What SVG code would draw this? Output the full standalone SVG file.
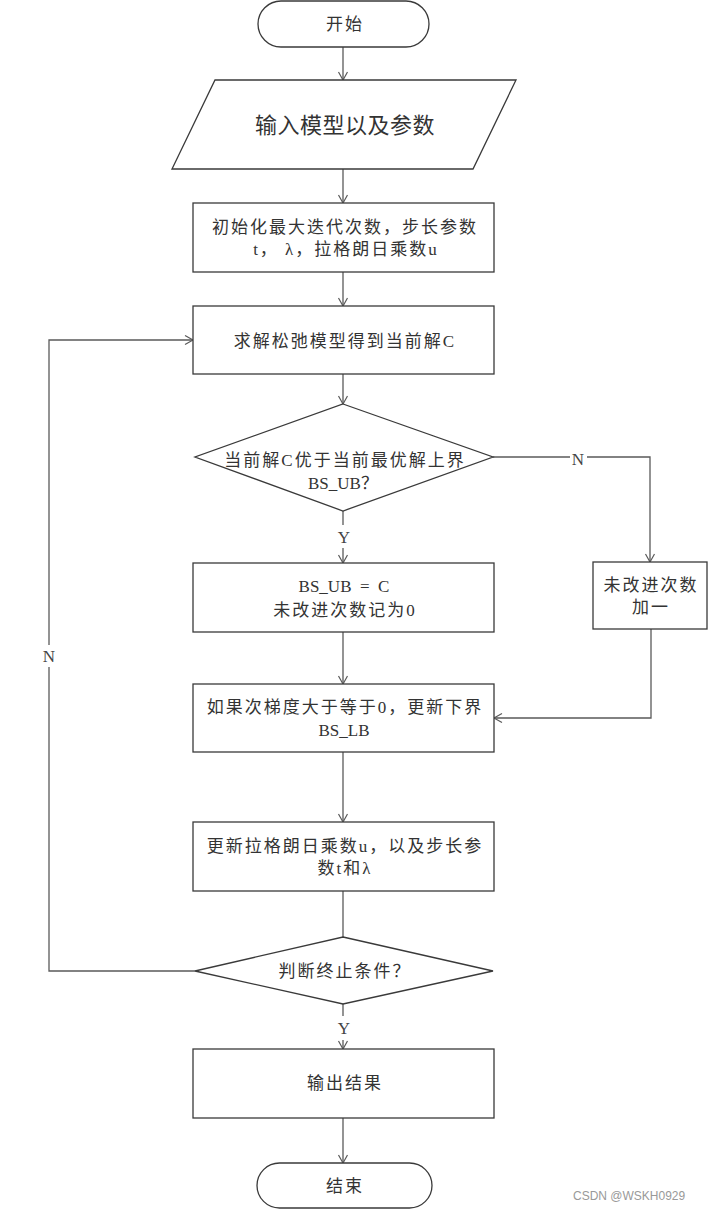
<svg xmlns="http://www.w3.org/2000/svg" width="709" height="1211" viewBox="0 0 709 1211">
<style>
.s{fill:#fff;stroke:#3a3a3a;stroke-width:1.3}
.c{fill:none;stroke:#5a5a5a;stroke-width:1.3}
.t{font-family:"Liberation Serif","Noto Sans CJK SC",serif;font-size:17px;letter-spacing:2px;fill:#333;text-anchor:middle;dominant-baseline:central}
.n{letter-spacing:0}
.l{font-family:"Liberation Serif",serif;font-size:17px;fill:#444;text-anchor:middle;dominant-baseline:central}
.w{font-family:"Liberation Sans",Arial,sans-serif;font-size:12px;fill:#999;dominant-baseline:central}
</style>
<defs>
<marker id="a" markerUnits="userSpaceOnUse" markerWidth="12" markerHeight="12" refX="9" refY="5" orient="auto">
<path d="M1,0.5 L9,5 L1,9.5" fill="none" stroke="#5a5a5a" stroke-width="1.2"/>
</marker>
</defs>
<rect width="709" height="1211" fill="#fff"/>
<g id="connectors">
<line class="c" x1="343" y1="47" x2="343" y2="80" marker-end="url(#a)"/>
<line class="c" x1="343" y1="169" x2="343" y2="203" marker-end="url(#a)"/>
<line class="c" x1="343" y1="272" x2="343" y2="306" marker-end="url(#a)"/>
<line class="c" x1="343" y1="374" x2="343" y2="404" marker-end="url(#a)"/>
<polyline class="c" points="343,511 343,525"/>
<text class="l" x="344" y="537">Y</text>
<line class="c" x1="343" y1="548" x2="343" y2="563" marker-end="url(#a)"/>
<polyline class="c" points="493,457 570,457"/>
<text class="l" x="578" y="459">N</text>
<polyline class="c" points="587,457 650,457 650,562" marker-end="url(#a)"/>
<line class="c" x1="343" y1="632" x2="343" y2="684" marker-end="url(#a)"/>
<polyline class="c" points="651,629 651,718 494,718" marker-end="url(#a)"/>
<line class="c" x1="343" y1="752" x2="343" y2="822" marker-end="url(#a)"/>
<line class="c" x1="343" y1="891" x2="343" y2="937"/>
<polyline class="c" points="195,971 49,971 49,667"/>
<text class="l" x="49" y="656">N</text>
<polyline class="c" points="49,645 49,340 193,340" marker-end="url(#a)"/>
<line class="c" x1="343" y1="1004" x2="343" y2="1016"/>
<text class="l" x="344" y="1028">Y</text>
<line class="c" x1="343" y1="1040" x2="343" y2="1049" marker-end="url(#a)"/>
<line class="c" x1="343" y1="1118" x2="343" y2="1163" marker-end="url(#a)"/>
</g>
<g id="start">
<rect class="s" x="258" y="1" width="171" height="46" rx="23"/>
<text class="t" x="345" y="24">开始</text>
</g>
<g id="input">
<polygon class="s" points="215,80 516,80 473,169 172,169"/>
<text class="t" x="345" y="125" style="font-size:22px;letter-spacing:0.5px">输入模型以及参数</text>
</g>
<g id="init">
<rect class="s" x="193" y="203" width="301" height="69"/>
<text class="t" x="345" y="227">初始化最大迭代次数，步长参数</text>
<text class="t" x="346" y="249">t， λ，拉格朗日乘数u</text>
</g>
<g id="relax">
<rect class="s" x="193" y="306" width="301" height="68"/>
<text class="t" x="345" y="341">求解松弛模型得到当前解C</text>
</g>
<g id="cond1">
<polygon class="s" points="343,404 493,457 343,511 195,457"/>
<text class="t" x="345" y="460">当前解C优于当前最优解上界</text>
<text class="t" x="344" y="483"><tspan class="n">BS_UB</tspan>？</text>
</g>
<g id="update-ub">
<rect class="s" x="193" y="563" width="301" height="69"/>
<text class="t n" x="344" y="586" xml:space="preserve">BS_UB  =  C</text>
<text class="t" x="345" y="610">未改进次数记为0</text>
</g>
<g id="no-improve">
<rect class="s" x="593" y="562" width="114" height="67"/>
<text class="t" x="651" y="585">未改进次数</text>
<text class="t" x="651" y="607">加一</text>
</g>
<g id="update-lb">
<rect class="s" x="193" y="684" width="301" height="68"/>
<text class="t" x="345" y="707">如果次梯度大于等于0，更新下界</text>
<text class="t n" x="344" y="730">BS_LB</text>
</g>
<g id="update-u">
<rect class="s" x="193" y="822" width="301" height="69"/>
<text class="t" x="345" y="846">更新拉格朗日乘数u，以及步长参</text>
<text class="t" x="345" y="868">数t和λ</text>
</g>
<g id="cond2">
<polygon class="s" points="343,937 493,971 343,1004 195,971"/>
<text class="t" x="345" y="971">判断终止条件？</text>
</g>
<g id="output">
<rect class="s" x="193" y="1049" width="301" height="69"/>
<text class="t" x="345" y="1083">输出结果</text>
</g>
<g id="end">
<rect class="s" x="257" y="1163" width="175" height="45" rx="22.5"/>
<text class="t" x="345" y="1186">结束</text>
</g>
<text class="w" x="573" y="1196">CSDN @WSKH0929</text>
</svg>
